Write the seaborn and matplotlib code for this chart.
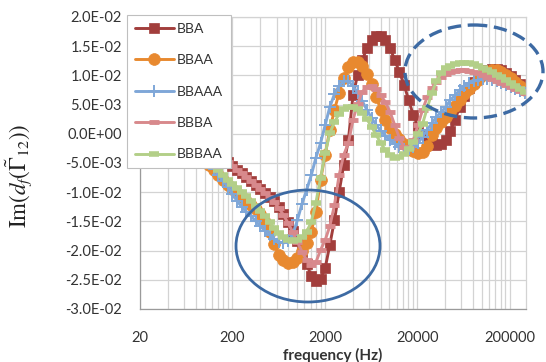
import matplotlib
matplotlib.use("Agg")
import numpy as np
import matplotlib.pyplot as plt
from matplotlib.patches import Ellipse
from matplotlib.ticker import FixedLocator, FuncFormatter, NullFormatter, MultipleLocator
from matplotlib.font_manager import FontProperties
import seaborn as sns

# frequency points (Hz), 1/6-octave spacing
freq_hz = [100, 112, 126, 141, 159, 178, 200, 224, 252, 283, 317, 356,
           400, 449, 504, 566, 635, 713, 800, 898, 1008, 1131, 1270, 1425,
           1600, 1796, 2016, 2263, 2540, 2851, 3200, 3592, 4032, 4525, 5080, 5702,
           6400, 7184, 8063, 9051, 10159, 11404, 12800, 14368, 16127, 18102, 20319, 22807,
           25600, 28735, 32254, 36204, 40637, 45614, 51200, 57470, 64508, 72408, 81275, 91229,
           102400, 114940, 129016, 144815, 162550, 182456, 204800, 229881, 258032, 289631]

# Im(d_f) per laminate, in units of 1e-3
bba_milli = [-1.9, -2.4, -2.9, -3.6, -4.1, -4.8, -5.5, -6.2, -6.7, -7.4,
             -8.1, -8.8, -9.5, -10.1, -10.8, -11.5, -12.5, -13.7, -15.1, -16.6,
             -18.4, -20.2, -22.3, -24.3, -25.2, -24.9, -23.0, -19.0, -14.8, -10.0,
             -5.3, -1.1, 6.6, 10.1, 12.6, 14.7, 16.1, 16.7, 16.7, 16.1,
             14.7, 12.6, 10.6, 8.4, 5.8, 3.2, 1.2, 0.0, -0.9, -1.6,
             -1.9, -1.7, -1.1, 0.5, 2.4, 4.6, 6.5, 7.8, 8.9, 9.9,
             10.6, 10.9, 11.1, 11.1, 10.9, 10.4, 9.9, 9.2, 8.5, 7.8]

bbaa_milli = [-4.5, -5.3, -6.2, -7.1, -7.9, -8.8, -9.5, -10.1, -10.8, -11.5,
              -12.2, -12.9, -13.7, -15.1, -16.8, -18.9, -20.8, -21.6, -22.1, -22.0,
              -21.3, -20.1, -18.7, -16.8, -13.4, -7.9, -3.6, 0.7, 4.1, 7.0,
              9.6, 11.4, 12.3, 12.3, 11.6, 10.2, 8.5, 6.3, 4.1, 2.4,
              1.0, 0.0, -0.9, -1.7, -2.4, -2.9, -3.3, -3.1, -2.1, -0.2,
              1.0, 2.0, 2.9, 3.7, 4.8, 5.8, 6.8, 7.7, 8.5, 9.2,
              10.1, 10.6, 10.9, 10.9, 10.6, 10.1, 9.6, 8.9, 8.2, 7.5]

bbaaa_milli = [-4.1, -5.2, -6.0, -7.1, -8.1, -9.1, -10.3, -11.5, -12.5, -13.4,
               -14.1, -14.9, -15.8, -16.6, -17.3, -18.0, -18.5, -18.7, -18.4, -17.3,
               -14.8, -12.0, -9.6, -7.1, -4.1, -1.6, 1.5, 4.6, 6.8, 8.2,
               9.0, 9.0, 8.2, 7.0, 5.6, 4.1, 2.7, 1.5, 0.5, -0.4,
               -1.1, -1.7, -2.3, -2.6, -2.6, -2.3, -1.6, -0.5, 0.7, 1.8,
               2.9, 3.7, 4.6, 5.8, 6.6, 7.5, 8.2, 8.7, 9.0, 9.2,
               9.4, 9.4, 9.2, 9.0, 8.7, 8.4, 8.0, 7.7, 7.3, 7.0]

bbba_milli = [-1.9, -2.4, -2.9, -3.6, -4.1, -4.8, -5.5, -6.2, -6.7, -7.4,
              -8.1, -8.8, -9.5, -10.1, -10.8, -11.7, -12.7, -13.9, -15.3, -16.8,
              -18.5, -20.2, -21.6, -22.5, -22.0, -19.9, -18.2, -15.8, -12.2, -7.1,
              -3.6, -1.6, 2.4, 5.1, 7.2, 8.0, 8.2, 7.7, 6.6, 5.4,
              3.7, 1.5, -0.7, -2.3, -2.4, -1.1, 1.5, 4.1, 6.3, 7.8,
              8.9, 9.7, 10.2, 10.6, 10.8, 10.9, 10.9, 10.8, 10.6, 10.4,
              10.1, 9.7, 9.4, 9.0, 8.7, 8.4, 8.0, 7.7, 7.3, 7.0]

bbbaa_milli = [-3.1, -4.1, -5.3, -6.2, -7.1, -7.9, -8.6, -9.3, -10.0, -10.7,
               -11.5, -12.4, -13.2, -14.1, -15.1, -16.1, -17.0, -17.7, -18.2, -18.4,
               -18.2, -17.7, -16.8, -15.1, -11.8, -7.6, -3.3, 0.1, 2.0, 3.4,
               4.2, 4.6, 4.6, 4.2, 3.6, 2.5, 1.2, -0.2, -1.6, -2.8,
               -3.6, -4.1, -4.0, -3.5, -2.6, -1.4, 0.0, 1.7, 4.4, 7.0,
               9.0, 10.4, 11.3, 11.6, 12.0, 12.1, 12.1, 12.1, 12.0, 11.6,
               11.3, 10.9, 10.6, 10.1, 9.7, 9.2, 8.7, 8.2, 7.7, 7.2]

series_names = ["BBA", "BBAA", "BBAAA", "BBBA", "BBBAA"]
series_values = [bba_milli, bbaa_milli, bbaaa_milli, bbba_milli, bbbaa_milli]

x_ticks = [20, 200, 2000, 20000, 200000]

styles = {
    "BBA":   dict(color="#A23E3C", marker="s", markersize=7.5, markeredgewidth=0.5),
    "BBAA":  dict(color="#E8892F", marker="o", markersize=8.5, markeredgewidth=0.5),
    "BBAAA": dict(color="#7FA7D8", marker="+", markersize=8.0, markeredgewidth=1.4),
    "BBBA":  dict(color="#D8898C", marker="_", markersize=6.5, markeredgewidth=3.5),
    "BBBAA": dict(color="#B3CF88", marker="_", markersize=7.5, markeredgewidth=4.0),
}

sns.set_theme(style="whitegrid")
plt.rcParams["font.family"] = ["Lato", "DejaVu Sans"]
plt.rcParams["mathtext.fontset"] = "stix"

W, H = 546, 362
fig = plt.figure(figsize=(W / 100, H / 100), dpi=100)
fig.patch.set_facecolor("white")
ax = fig.add_axes([140 / W, 53 / H, 386 / W, 292 / H])
ax.set_facecolor("white")
ax.set_xscale("log")

for name, vals in zip(series_names, series_values):
    st = styles[name]
    sns.lineplot(x=freq_hz, y=np.array(vals) * 1e-3, ax=ax, label=name, legend=False,
                 color=st["color"], linewidth=2.1, marker=st["marker"],
                 markersize=st["markersize"], markeredgewidth=st["markeredgewidth"],
                 markeredgecolor=st["color"], markerfacecolor=st["color"])

ax.set_xlim(20, 300000)
ax.set_ylim(-0.03, 0.02)

grid_c = "#D3D3D3"
ax.xaxis.set_major_locator(FixedLocator(x_ticks))
ax.xaxis.set_major_formatter(FuncFormatter(lambda v, p: f"{int(round(v))}"))
minor = [m * t for t in x_ticks for m in range(2, 10) if m * t < 300000]
ax.xaxis.set_minor_locator(FixedLocator(minor))
ax.xaxis.set_minor_formatter(NullFormatter())


def sci_fmt(v, p):
    v = round(v / 0.005) * 0.005
    if abs(v) < 1e-12:
        v = 0.0
    return f"{v:.1E}"


ax.yaxis.set_major_locator(MultipleLocator(0.005))
ax.yaxis.set_major_formatter(FuncFormatter(sci_fmt))

ax.grid(True, which="major", color=grid_c, linewidth=0.9)
ax.grid(True, which="minor", axis="x", color=grid_c, linewidth=0.9)
ax.set_axisbelow(True)

for side in ["top", "right"]:
    ax.spines[side].set_color(grid_c)
    ax.spines[side].set_linewidth(0.9)
for side in ["left", "bottom"]:
    ax.spines[side].set_color("#9A9A9A")
    ax.spines[side].set_linewidth(0.9)

tick_font = FontProperties(family="Lato", size=10.5)
ax.tick_params(axis="y", which="major", direction="out", length=3, width=0.8,
               color="#9A9A9A", pad=10, labelcolor="#333333")
ax.tick_params(axis="x", which="major", direction="out", length=0, pad=16,
               labelcolor="#333333")
ax.tick_params(axis="x", which="minor", length=0)
for lab in ax.get_xticklabels() + ax.get_yticklabels():
    lab.set_fontproperties(tick_font)

ax.set_ylabel(r"$\mathrm{Im}(d_f(\tilde{\Gamma}_{12}))$", fontsize=16.5, color="#222222")
ax.yaxis.set_label_coords(-0.275, 0.455)
ax.set_xlabel("frequency (Hz)", fontsize=11, fontweight="bold", color="#333333",
              va="top")
ax.xaxis.set_label_coords(0.5, -0.135)

handles, labels = ax.get_legend_handles_labels()
leg = fig.legend(handles, labels, loc="upper left",
                 bbox_to_anchor=(127 / W, 1 - 15 / H), bbox_transform=fig.transFigure,
                 frameon=True, fancybox=False, edgecolor="#BFBFBF", facecolor="white",
                 framealpha=1, prop=FontProperties(family="Lato", size=10),
                 handlelength=2.8, handletextpad=0.25, labelspacing=1.4,
                 borderpad=0.55, borderaxespad=0)
leg.get_frame().set_linewidth(0.8)
for t in leg.get_texts():
    t.set_color("#333333")

# annotation ellipses in pixel space
ov = fig.add_axes([0, 0, 1, 1])
ov.set_xlim(0, W)
ov.set_ylim(H, 0)
ov.axis("off")
ov.patch.set_alpha(0)
ov.add_patch(Ellipse((308, 246), 144, 112, fill=False, edgecolor="#3D6AA3", linewidth=2.0))
ov.add_patch(Ellipse((474, 71.5), 138, 93, fill=False, edgecolor="#3D6AA3", linewidth=2.4,
                     linestyle=(0, (4, 2))))

fig.savefig("out.png", dpi=100, facecolor="white")
